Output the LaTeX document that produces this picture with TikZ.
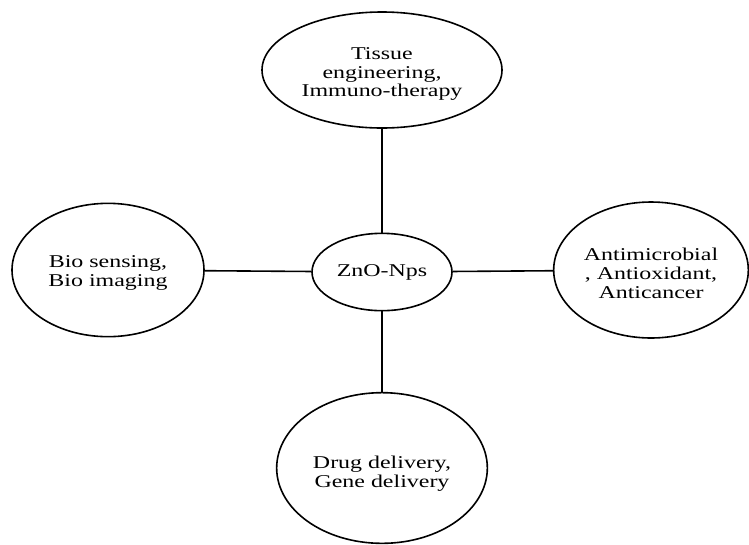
\documentclass[tikz,border=0pt]{standalone}
\usepackage{fontspec}
\setmainfont[FakeStretch=1.33]{Liberation Serif}
\usetikzlibrary{shapes.geometric}
\begin{document}
\begin{tikzpicture}[x=0.75pt,y=-0.75pt,
  bub/.style={ellipse,draw,line width=1.2pt,inner sep=0pt},
  txt/.style={inner sep=0pt,align=center,font=\fontsize{13.5}{14.2}\selectfont},
  link/.style={line width=1.2pt}]
\useasboundingbox (0,0) rectangle (749,544);
\node[bub,minimum width=180pt,minimum height=87pt] (top) at (382,70) {};
\node[txt] (topt) at (382,74) {Tissue\\engineering,\\Immuno-therapy};
\node[bub,minimum width=144pt,minimum height=100pt] (left) at (108,270) {};
\node[txt] (leftt) at (108,273) {Bio sensing,\\Bio imaging};
\node[bub,minimum width=105pt,minimum height=58pt] (c) at (382,272) {};
\node[txt] (ct) at (382,272) {ZnO-Nps};
\node[bub,minimum width=146pt,minimum height=102pt] (right) at (651,270) {};
\node[txt] (rightt) at (651,273) {Antimicrobial\\, Antioxidant,\\Anticancer};
\node[bub,minimum width=158pt,minimum height=113pt] (bot) at (382,468) {};
\node[txt] (bott) at (382,474) {Drug delivery,\\Gene delivery};
\draw[link] (top) -- (c);
\draw[link] (c) -- (bot);
\draw[link] (left) -- (c);
\draw[link] (c) -- (right);
\end{tikzpicture}
\end{document}
